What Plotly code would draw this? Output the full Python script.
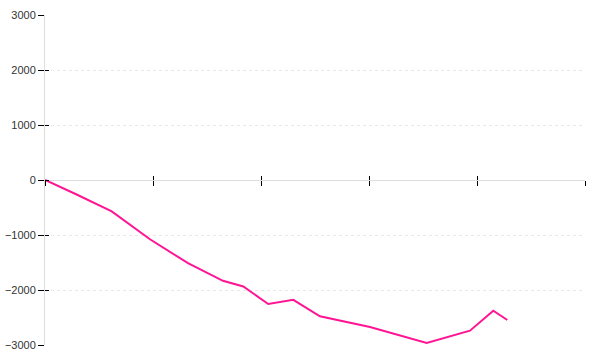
import plotly.graph_objects as go

x_vals = [0, 0.278, 0.618, 0.972, 1.324, 1.648, 1.836, 2.067, 2.299, 2.546, 3.009, 3.534, 3.935, 4.151, 4.281]
y_vals = [0, -250, -571, -1078, -1513, -1833, -1935, -2255, -2178, -2478, -2672, -2962, -2739, -2377, -2545]
y_ticks = [-3000, -2000, -1000, 0, 1000, 2000, 3000]
x_ticks = [0, 1, 2, 3, 4, 5]

fig = go.Figure()
fig.add_trace(go.Scatter(x=x_vals, y=y_vals, mode="lines",
                         line=dict(color="#ff1493", width=2), showlegend=False,
                         hoverinfo="skip"))
# invisible trace for overlay axes
fig.add_trace(go.Scatter(x=[x_vals[0]], y=[y_vals[0]], xaxis="x2", yaxis="y2",
                         mode="markers", marker=dict(opacity=0), showlegend=False,
                         hoverinfo="skip"))

font = dict(family="Liberation Sans, Arial, sans-serif", size=11, color="#333")

fig.update_layout(
    width=600, height=360,
    margin=dict(l=45, r=15, t=15, b=15, autoexpand=False),
    paper_bgcolor="white", plot_bgcolor="white",
    font=font,
    xaxis=dict(range=[0, 5], tickvals=x_ticks, showticklabels=False,
               showgrid=False, zeroline=False, automargin=False,
               showline=True, linecolor="#dddddd", linewidth=1,
               ticks="outside", ticklen=5, tickwidth=1, tickcolor="#000",
               anchor="free", position=0.5),
    xaxis2=dict(range=[0, 5], tickvals=x_ticks, showticklabels=False,
                showgrid=False, zeroline=False, showline=False, automargin=False,
                ticks="inside", ticklen=4, tickwidth=1, tickcolor="#000",
                overlaying="x", anchor="free", position=0.5, side="bottom"),
    yaxis=dict(range=[-3000, 3000], tickvals=y_ticks, automargin=False,
               tickformat="d", showgrid=True, gridcolor="#e8e8e8",
               griddash="3px,3px", gridwidth=1, zeroline=False,
               showline=True, linecolor="#dddddd", linewidth=1,
               ticks="outside", ticklen=6, tickwidth=1, tickcolor="#000",
               tickfont=font),
    yaxis2=dict(range=[-3000, 3000], tickvals=y_ticks, showticklabels=False,
                showgrid=False, zeroline=False, showline=False, automargin=False,
                ticks="inside", ticklen=4, tickwidth=1, tickcolor="#000",
                overlaying="y", anchor="x", side="left"),
)

fig.write_html("out.html")
